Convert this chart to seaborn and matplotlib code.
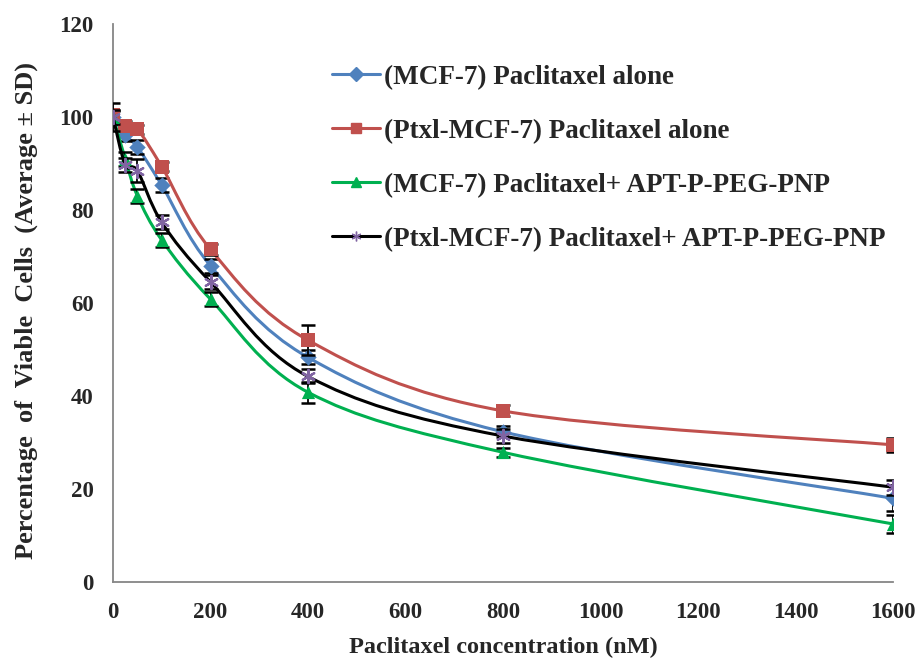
import numpy as np
import pandas as pd
import matplotlib
matplotlib.use("Agg")
import matplotlib.pyplot as plt
from matplotlib.path import Path
from matplotlib.patches import PathPatch
from matplotlib.lines import Line2D
import seaborn as sns

# data
conc = [0, 25, 50, 100, 200, 400, 800, 1600]
series_names = ["(MCF-7) Paclitaxel alone",
                "(Ptxl-MCF-7) Paclitaxel alone",
                "(MCF-7) Paclitaxel+ APT-P-PEG-PNP",
                "(Ptxl-MCF-7) Paclitaxel+ APT-P-PEG-PNP"]
mcf7_alone = [100, 96, 93.5, 85.3, 68, 48.3, 32.3, 18]
mcf7_alone_sd = [1.5, 1.2, 1.5, 1.5, 1.5, 1.5, 1.2, 2.8]
ptxl_alone = [100.3, 98, 97.3, 89.3, 71.5, 52, 36.8, 29.5]
ptxl_alone_sd = [1.0, 1.0, 1.0, 1.0, 1.2, 3.2, 1.2, 1.5]
mcf7_np = [100, 91, 83, 73.5, 60.8, 40.8, 27.9, 12.5]
mcf7_np_sd = [1.5, 1.5, 1.5, 1.5, 1.5, 2.2, 1.0, 2.0]
ptxl_np = [100, 89.7, 88.4, 77.3, 64.5, 44.2, 31.4, 20.4]
ptxl_np_sd = [3.0, 1.5, 2.5, 1.5, 1.5, 1.5, 1.5, 1.6]

values = [mcf7_alone, ptxl_alone, mcf7_np, ptxl_np]
sds = [mcf7_alone_sd, ptxl_alone_sd, mcf7_np_sd, ptxl_np_sd]
line_colors = ["#4F81BD", "#C0504D", "#00B050", "#000000"]
marker_colors = ["#4F81BD", "#C0504D", "#00B050", "#8064A2"]
markers = ["D", "s", "^", (6, 2, 0)]
msizes = [70, 110, 90, 90]

df = pd.DataFrame({
    "conc": conc * 4,
    "viable": sum(values, []),
    "sd": sum(sds, []),
    "series": [n for n in series_names for _ in conc],
})

sns.set_style("white")
plt.rcParams["font.family"] = ["Liberation Serif", "DejaVu Serif"]
plt.rcParams["font.weight"] = "bold"

fig = plt.figure(figsize=(9.21, 6.6), dpi=100)
ax = fig.add_axes([0.1227, 0.118, 0.847, 0.846])


def smooth_path(xs, ys):
    # Excel-like smoothed line: cubic Bezier through the points
    pts = np.column_stack([xs, ys]).astype(float)
    verts = [pts[0]]
    codes = [Path.MOVETO]
    n = len(pts)
    for i in range(n - 1):
        p0 = pts[max(i - 1, 0)]
        p1 = pts[i]
        p2 = pts[i + 1]
        p3 = pts[min(i + 2, n - 1)]
        c1 = p1 + (p2 - p0) / 6.0
        c2 = p2 - (p3 - p1) / 6.0
        verts += [c1, c2, p2]
        codes += [Path.CURVE4] * 3
    return Path(verts, codes)


for i, name in enumerate(series_names):
    sub = df[df["series"] == name]
    ax.add_patch(PathPatch(smooth_path(sub["conc"], sub["viable"]),
                           facecolor="none", edgecolor=line_colors[i],
                           lw=2.2, zorder=2 + i))
    ax.errorbar(sub["conc"], sub["viable"], yerr=sub["sd"], fmt="none",
                ecolor="black", elinewidth=1.3, capsize=5, capthick=1.8,
                zorder=2 + i)
    sns.scatterplot(data=sub, x="conc", y="viable", ax=ax, marker=markers[i],
                    color=marker_colors[i], s=msizes[i],
                    linewidth=0 if i < 3 else 1.6,
                    edgecolor=marker_colors[i], zorder=3 + i, legend=False)

ax.set_xlim(0, 1600)
ax.set_ylim(0, 120)
ax.set_xticks(range(0, 1601, 200))
ax.set_yticks(range(0, 121, 20))
for s in ["top", "right"]:
    ax.spines[s].set_visible(False)
for s in ["left", "bottom"]:
    ax.spines[s].set_color("#868686")
    ax.spines[s].set_linewidth(1.3)
ax.tick_params(axis="both", direction="out", length=6, width=1.3,
               color="#868686", labelsize=16.5, pad=8)
for lab in ax.get_xticklabels() + ax.get_yticklabels():
    lab.set_fontweight("bold")
ax.set_xlabel("Paclitaxel concentration (nM)", fontsize=17.5,
              fontweight="bold", labelpad=10)
ax.set_ylabel("Percentage  of  Viable  Cells  (Average \u00b1 SD)",
              fontsize=19, fontweight="bold")
ax.yaxis.set_label_coords(-0.096, 0.486)

handles = [Line2D([0], [0], color=line_colors[i], lw=2.2, marker=markers[i],
                  markersize=7, markerfacecolor=marker_colors[i],
                  markeredgecolor=marker_colors[i])
           for i in range(4)]
ax.legend(handles, series_names, loc="upper left",
          bbox_to_anchor=(0.25, 0.97), frameon=False, handlelength=1.75,
          handletextpad=0.15, labelspacing=1.07,
          prop={"family": "Liberation Serif", "weight": "bold", "size": 19.5})

fig.savefig("out.png", dpi=100)
